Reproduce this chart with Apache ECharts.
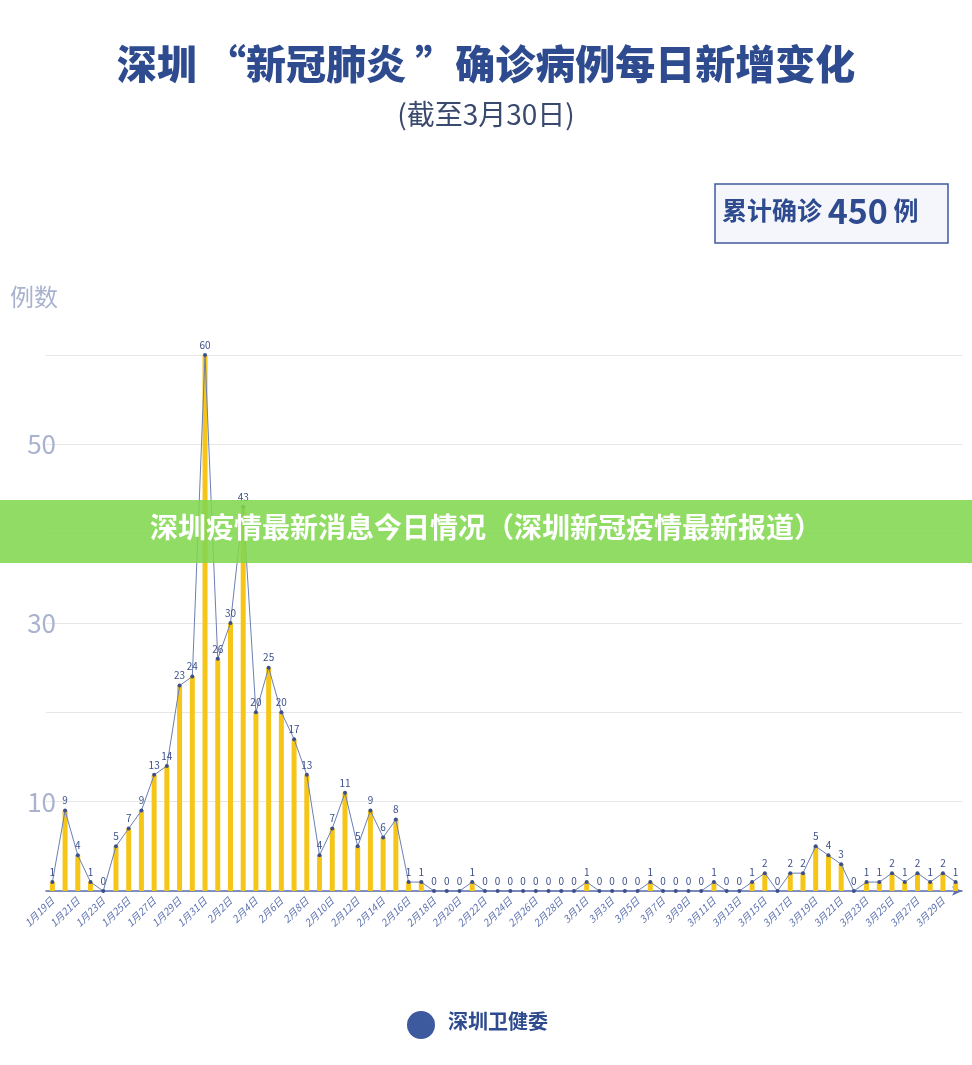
<!DOCTYPE html>
<html><head><meta charset="utf-8">
<script src="https://cdn.jsdelivr.net/npm/echarts@6/dist/echarts.min.js"></script>
<style>html,body{margin:0;padding:0;background:#fff}#c{width:972px;height:1065px}</style>
</head><body><div id="c"></div>
<script>
const janValues=[1,9,4,1,0,5,7,9,13,14,23,24,60];
const febValues=[26,30,43,20,25,20,17,13,4,7,11,5,9,6,8,1,1,0,0,0,1,0,0,0,0,0,0,0,0];
const marValues=[1,0,0,0,0,1,0,0,0,0,1,0,0,1,2,0,2,2,5,4,3,0,1,1,2,1,2,1,2,1];
const categories=[];
for(let d=19;d<=31;d++)categories.push('1月'+d+'日');
for(let d=1;d<=29;d++)categories.push('2月'+d+'日');
for(let d=1;d<=30;d++)categories.push('3月'+d+'日');
const values=janValues.concat(febValues,marValues);
const yTicks=[10,30,50];
const F='"Noto Sans CJK SC","Noto Sans",sans-serif';
const chart=echarts.init(document.getElementById('c'));
chart.setOption({
 animation:false,
 grid:{left:46,right:10,top:355,bottom:174,containLabel:false},
 xAxis:{type:'category',data:categories,boundaryGap:true,
  axisLine:{lineStyle:{color:'#5a6fae',width:1.5},symbol:['none','arrow'],symbolSize:[7,10]},
  axisTick:{show:false},
  axisLabel:{interval:1,rotate:45,color:'#5a6fae',fontSize:10,fontStyle:'italic',fontFamily:F,margin:8}},
 yAxis:{type:'value',min:0,max:60,interval:10,
  axisLine:{show:false},axisTick:{show:false},
  splitLine:{lineStyle:{color:'#e6e6e6'}},
  axisLabel:{color:'#a9b3cf',fontSize:26,fontFamily:F,margin:-10,formatter:v=>yTicks.includes(v)?String(v):''}},
 series:[
  {type:'bar',data:values,barWidth:5,itemStyle:{color:'#f5c518'},z:1},
  {type:'line',data:values,symbol:'circle',symbolSize:4,
   lineStyle:{color:'#6b7fb3',width:1},itemStyle:{color:'#3d4f8a'},z:2,
   label:{show:true,position:'top',color:'#3d4f8a',fontSize:10,fontFamily:F,distance:3}}
 ],
 graphic:[
  {type:'text',left:'center',top:44,style:{text:'深圳 “新冠肺炎 ”确诊病例每日新增变化',fill:'#2d4b8e',font:'900 40px '+F}},
  {type:'text',left:'center',top:100,style:{text:'(截至3月30日)',fill:'#3a4a6e',font:'28px '+F}},
  {type:'rect',shape:{x:715,y:184,width:233,height:59},style:{fill:'#f4f6fb',stroke:'#3f5a9a',lineWidth:1.5}},
  {type:'text',x:722,y:194,style:{rich:{a:{fill:'#2d4b8e',font:'bold 25px '+F},b:{fill:'#2d4b8e',font:'bold 34px '+F}},text:'{a|累计确诊 }{b|450}{a| 例}',verticalAlign:'top'}},
  {type:'text',x:10,y:285,style:{text:'例数',fill:'#a9b3cf',font:'24px '+F}},
  {type:'rect',shape:{x:0,y:500,width:972,height:63},style:{fill:'rgba(130,215,80,0.88)'},z:10},
  {type:'text',left:'center',top:513,z:11,style:{text:'深圳疫情最新消息今日情况（深圳新冠疫情最新报道）',fill:'#fff',font:'bold 28px '+F}},
  {type:'circle',shape:{cx:421,cy:1025,r:14},style:{fill:'#3d5a9e'}},
  {type:'text',x:448,y:1011,style:{text:'深圳卫健委',fill:'#2d4b8e',font:'bold 20px '+F}}
 ]
});
</script></body></html>
